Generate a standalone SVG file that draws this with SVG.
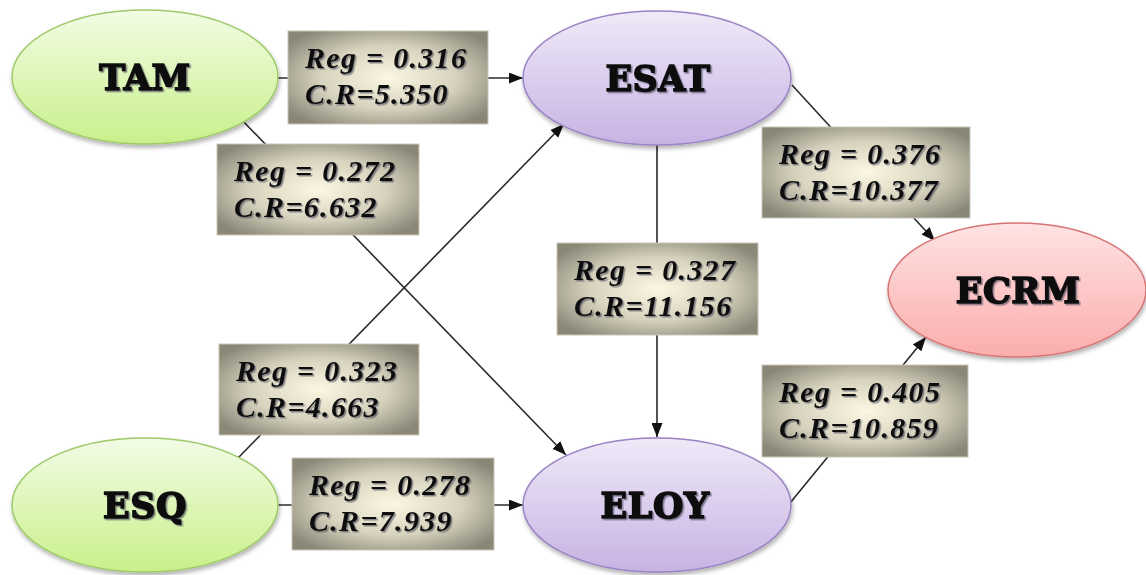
<svg xmlns="http://www.w3.org/2000/svg" width="1146" height="575" viewBox="0 0 1146 575">
<defs>
<linearGradient id="gGreen" x1="0" y1="0" x2="0" y2="1"><stop offset="0" stop-color="#f2fce6"/><stop offset="1" stop-color="#c9f08a"/></linearGradient>
<linearGradient id="gPurple" x1="0" y1="0" x2="0" y2="1"><stop offset="0" stop-color="#efe9f8"/><stop offset="1" stop-color="#c7b3e3"/></linearGradient>
<linearGradient id="gRed" x1="0" y1="0" x2="0" y2="1"><stop offset="0" stop-color="#ffe3e3"/><stop offset="1" stop-color="#fbadad"/></linearGradient>
<radialGradient id="gBox" cx="0.5" cy="0.5" r="0.62"><stop offset="0" stop-color="#fbf7e2"/><stop offset="0.55" stop-color="#d6d2be"/><stop offset="1" stop-color="#8a8777"/></radialGradient>
<filter id="sh" x="-10%" y="-10%" width="125%" height="130%"><feDropShadow dx="1" dy="3" stdDeviation="2" flood-color="#000" flood-opacity="0.3"/></filter>
<filter id="tsh" x="-5%" y="-10%" width="115%" height="130%"><feDropShadow dx="1.5" dy="1.5" stdDeviation="0.6" flood-color="#445" flood-opacity="0.6"/></filter>
<marker id="arr" viewBox="0 0 14 11" refX="14" refY="5.5" markerWidth="14" markerHeight="11" markerUnits="userSpaceOnUse" orient="auto"><path d="M0,0 L14,5.5 L0,11 Z" fill="#111"/></marker>
</defs>
<style>
.node text{font-family:"DejaVu Serif",serif;font-weight:900;font-size:35px;fill:#111;stroke:#111;stroke-width:1.6;text-anchor:middle;letter-spacing:0.5px}
.green{fill:url(#gGreen);stroke:#9fca6b;stroke-width:1.5}
.purple{fill:url(#gPurple);stroke:#9a83c4;stroke-width:1.5}
.red{fill:url(#gRed);stroke:#d77474;stroke-width:1.5}
.conn line{stroke:#2a2a2a;stroke-width:1.6;fill:none}
.lbl rect{fill:url(#gBox);stroke:#c9c6b8;stroke-width:1}
.lbl text{font-family:"Liberation Serif",serif;font-style:italic;font-weight:bold;font-size:30px;fill:#111;letter-spacing:1.3px}
</style>
<g id="connectors" class="conn">
<line x1="278" y1="78" x2="523" y2="78" marker-end="url(#arr)"/>
<line x1="240" y1="118" x2="566" y2="455" marker-end="url(#arr)"/>
<line x1="238" y1="458" x2="564" y2="124" marker-end="url(#arr)"/>
<line x1="278" y1="505" x2="523" y2="505" marker-end="url(#arr)"/>
<line x1="657" y1="145" x2="657" y2="437" marker-end="url(#arr)"/>
<line x1="792" y1="85" x2="935" y2="241" marker-end="url(#arr)"/>
<line x1="790" y1="503" x2="926" y2="337" marker-end="url(#arr)"/>
</g>
<g id="node-TAM" class="node"><ellipse class="green" cx="145" cy="77" rx="133" ry="67" filter="url(#sh)"/><text x="145" y="90" filter="url(#tsh)">TAM</text></g>
<g id="node-ESAT" class="node"><ellipse class="purple" cx="657" cy="78" rx="134" ry="67" filter="url(#sh)"/><text x="658" y="91" filter="url(#tsh)">ESAT</text></g>
<g id="node-ESQ" class="node"><ellipse class="green" cx="145" cy="505" rx="133" ry="67" filter="url(#sh)"/><text x="145" y="518" filter="url(#tsh)">ESQ</text></g>
<g id="node-ELOY" class="node"><ellipse class="purple" cx="657" cy="505" rx="134" ry="67" filter="url(#sh)"/><text x="655" y="518" filter="url(#tsh)">ELOY</text></g>
<g id="node-ECRM" class="node"><ellipse class="red" cx="1017" cy="290" rx="129" ry="67" filter="url(#sh)"/><text x="1018" y="303" filter="url(#tsh)">ECRM</text></g>
<g id="labels" class="lbl">
<g id="lbl-tam-esat"><rect x="288" y="31" width="200" height="93"/><text x="305" y="68" filter="url(#tsh)">Reg = 0.316</text><text x="305" y="104" filter="url(#tsh)">C.R=5.350</text></g>
<g id="lbl-tam-eloy"><rect x="217" y="144" width="202" height="91"/><text x="234" y="181" filter="url(#tsh)">Reg = 0.272</text><text x="234" y="217" filter="url(#tsh)">C.R=6.632</text></g>
<g id="lbl-esq-esat"><rect x="219" y="344" width="200" height="91"/><text x="236" y="381" filter="url(#tsh)">Reg = 0.323</text><text x="236" y="417" filter="url(#tsh)">C.R=4.663</text></g>
<g id="lbl-esq-eloy"><rect x="292" y="458" width="202" height="92"/><text x="309" y="495" filter="url(#tsh)">Reg = 0.278</text><text x="309" y="531" filter="url(#tsh)">C.R=7.939</text></g>
<g id="lbl-esat-ecrm"><rect x="762" y="127" width="208" height="91"/><text x="779" y="164" filter="url(#tsh)">Reg = 0.376</text><text x="779" y="200" filter="url(#tsh)">C.R=10.377</text></g>
<g id="lbl-esat-eloy"><rect x="557" y="243" width="201" height="92"/><text x="574" y="280" filter="url(#tsh)">Reg = 0.327</text><text x="574" y="316" filter="url(#tsh)">C.R=11.156</text></g>
<g id="lbl-eloy-ecrm"><rect x="762" y="365" width="206" height="92"/><text x="779" y="402" filter="url(#tsh)">Reg = 0.405</text><text x="779" y="438" filter="url(#tsh)">C.R=10.859</text></g>
</g>
</svg>
